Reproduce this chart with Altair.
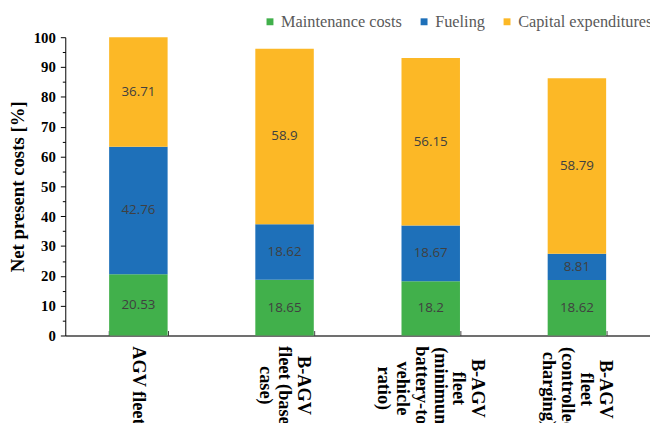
import altair as alt
import pandas as pd

categories = [
    "AGV fleet",
    "B-AGV fleet (base case)",
    "B-AGV fleet (minimum battery-to-vehicle ratio)",
    "B-AGV fleet (controlled charging)",
]
label_lines = [
    ["AGV fleet"],
    ["B-AGV", "fleet (base", "case)"],
    ["B-AGV", "fleet", "(minimum", "battery-to-", "vehicle", "ratio)"],
    ["B-AGV", "fleet", "(controlled", "charging)"],
]
series = ["Maintenance costs", "Fueling", "Capital expenditures"]
maintenance = [20.53, 18.65, 18.2, 18.62]
fueling = [42.76, 18.62, 18.67, 8.81]
capex = [36.71, 58.9, 56.15, 58.79]
colors = ["#41B04B", "#1E70B9", "#FCB826"]
y_ticks = list(range(0, 101, 5))

LINE_H = 19
# label padding per category (half of the longest line + gap), styling only
label_pad = [55, 55, 58, 59]

rows = []
for i, c in enumerate(categories):
    for k, (s, vals) in enumerate(zip(series, [maintenance, fueling, capex])):
        rows.append({"category": c, "series": s, "value": vals[i], "order": k})
df = pd.DataFrame(rows)

def js_str(s):
    return "'" + s.replace("'", "\\'") + "'"

expr = "datum.label"
for c, lines in reversed(list(zip(categories, label_lines))):
    arr = "[" + ",".join(js_str(l) for l in lines) + "]"
    expr = f"datum.value === {js_str(c)} ? {arr} : ({expr})"

pad_cond = {
    "condition": [
        {"test": f"datum.value === {js_str(c)}", "value": p}
        for c, p in zip(categories, label_pad)
    ],
    "value": 55,
}
off_cond = {
    "condition": [
        {"test": f"datum.value === {js_str(c)}", "value": (len(lines) - 1) * LINE_H / 2}
        for c, lines in zip(categories, label_lines)
    ],
    "value": 0,
}

serif = "Liberation Serif"
major = "datum.value % 10 === 0"

x_enc = alt.X(
    "category:N",
    sort=categories,
    scale=alt.Scale(paddingInner=0.6, paddingOuter=0.3),
    axis=alt.Axis(
        title=None,
        labelAngle=90,
        labelAlign="center",
        labelBaseline="middle",
        labelExpr=expr,
        labelLineHeight=LINE_H,
        labelFont=serif,
        labelFontWeight="bold",
        labelFontSize=18.5,
        labelColor="black",
        labelPadding=pad_cond,
        labelOffset=off_cond,
        labelOverlap=False,
        labelLimit=0,
        tickBand="extent",
        tickSize={"expr": "-5"},
        tickColor="#404040",
        domainColor="#404040",
        domainWidth=1.5,
    ),
)

y_scale = alt.Scale(domain=[0, 100], nice=False)
y_axis = alt.Axis(
    title="Net present costs [%]",
    titleFont=serif,
    titleFontSize=19,
    titleFontWeight="bold",
    titleColor="black",
    titlePadding=6,
    values=y_ticks,
    labelExpr=f"{major} ? datum.label : ''",
    labelOverlap=False,
    labelFont=serif,
    labelFontWeight="bold",
    labelFontSize=15,
    labelColor="black",
    labelPadding=5,
    tickSize={"condition": {"test": major, "value": 5}, "value": 3},
    tickColor="black",
    domainColor="black",
    grid=False,
)

bars = alt.Chart(df).mark_bar().encode(
    x=x_enc,
    y=alt.Y("value:Q", stack="zero", scale=y_scale, axis=y_axis),
    color=alt.Color(
        "series:N",
        sort=series,
        scale=alt.Scale(domain=series, range=colors),
        legend=alt.Legend(
            title=None,
            orient="none",
            direction="horizontal",
            legendX=199,
            legendY=-24,
            symbolType="square",
            symbolSize=49,
            symbolStrokeWidth=0,
            labelFont=serif,
            labelFontSize=16.5,
            labelColor="#595959",
            labelOffset=3,
            columnPadding=14,
            labelLimit=0,
        ),
    ),
    order=alt.Order("order:Q", sort="ascending"),
)

texts = (
    alt.Chart(df)
    .transform_stack(
        stack="value",
        groupby=["category"],
        as_=["y0", "y1"],
        sort=[alt.SortField("order", order="ascending")],
    )
    .transform_calculate(mid="(datum.y0 + datum.y1) / 2")
    .mark_text(font="Open Sans", fontSize=13.5, color="#404040")
    .encode(
        x=alt.X("category:N", sort=categories),
        y=alt.Y("mid:Q", scale=y_scale, axis=y_axis),
        text=alt.Text("value:Q"),
    )
)

chart = (
    alt.layer(bars, texts)
    .properties(
        width=592,
        height=302,
        autosize=alt.AutoSizeParams(type="none"),
        padding={"left": 58, "top": 27, "right": 0, "bottom": 86},
    )
    .configure_view(stroke=None)
    .configure_axis(labelOverlap=False)
)

chart.save("out.html", embed_options={"renderer": "svg", "actions": False})
